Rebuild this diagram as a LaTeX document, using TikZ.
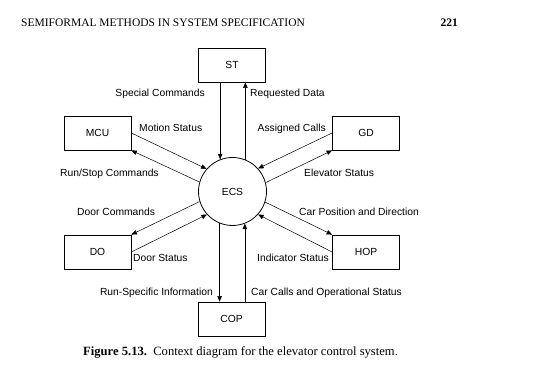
\documentclass[tikz,border=0pt]{standalone}
\usepackage{fontspec}
\setmainfont{Liberation Serif}
\newfontfamily\labelfont{Liberation Sans}
\usetikzlibrary{arrows.meta}
\tikzset{
  ent/.style={draw, line width=0.8pt, minimum width=67pt, minimum height=34pt, inner sep=0pt, font=\labelfont\fontsize{10.3}{12}\selectfont},
  proc/.style={draw, circle, line width=0.8pt, minimum size=68pt, inner sep=0pt, font=\labelfont\fontsize{10.3}{12}\selectfont},
  flow/.style={line width=0.5pt, -{Triangle[length=5.5pt,width=4.5pt]}},
  lbl/.style={inner sep=0pt, font=\labelfont\fontsize{10.3}{12}\selectfont},
}
\begin{document}
\begin{tikzpicture}[x=1pt,y=-1pt]
\useasboundingbox (0,0) rectangle (536,387);
% header
\node[inner sep=0pt, anchor=base west, font=\fontsize{11.5}{13}\selectfont] (hdr) at (21,26.5) {SEMIFORMAL METHODS IN SYSTEM SPECIFICATION};
\node[inner sep=0pt, anchor=base east, font=\bfseries\fontsize{11.5}{13}\selectfont] (pg) at (458,26.5) {221};
% nodes
\node[ent] (ST) at (232,65) {ST};
\node[ent] (MCU) at (97.5,133) {MCU};
\node[ent] (GD) at (366,133) {GD};
\node[ent] (DO) at (97.5,252) {DO};
\node[ent] (HOP) at (366,252) {HOP};
\node[ent] (COP) at (231.5,319) {COP};
\node[proc] (ECS) at (232.5,191.5) {ECS};
% vertical flows
\draw[flow] (ST.south -| ECS.111.6) -- (ECS.111.6);
\draw[flow] (ECS.68.4) -- (ST.south -| ECS.68.4);
\draw[flow] (ECS.248.4) -- (COP.north -| ECS.248.4);
\draw[flow] (COP.north -| ECS.291.6) -- (ECS.291.6);
% diagonal flows
\draw[flow] (MCU.east) -- (ECS.139);
\draw[flow] (ECS.164) -- (MCU.south east);
\draw[flow] (GD.west) -- (ECS.42);
\draw[flow] (ECS.15) -- (GD.south west);
\draw[flow] (ECS.197) -- (DO.north east);
\draw[flow] (DO.east) -- (ECS.222);
\draw[flow] (ECS.342) -- (HOP.north west);
\draw[flow] (HOP.west) -- (ECS.318);
% labels
\node[lbl, anchor=base east] (l1) at (205,96.7) {Special Commands};
\node[lbl, anchor=base west] (l2) at (250,96.7) {Requested Data};
\node[lbl, anchor=base west] (l3) at (139,131.7) {Motion Status};
\node[lbl, anchor=base east] (l4) at (326,131.7) {Assigned Calls};
\node[lbl, anchor=base west] (l5) at (60,176.7) {Run/Stop Commands};
\node[lbl, anchor=base west] (l6) at (304,176.7) {Elevator Status};
\node[lbl, anchor=base west] (l7) at (77,215.7) {Door Commands};
\node[lbl, anchor=base west] (l8) at (299,215.7) {Car Position and Direction};
\node[lbl, anchor=base west] (l9) at (133,261.7) {Door Status};
\node[lbl, anchor=base east] (l10) at (329,261.7) {Indicator Status};
\node[lbl, anchor=base east] (l11) at (213,295.7) {Run-Specific Information};
\node[lbl, anchor=base west] (l12) at (251,295.7) {Car Calls and Operational Status};
% caption
\node[inner sep=0pt, anchor=base west, font=\fontsize{12.6}{14}\selectfont] (cap) at (83,355.5) {\textbf{Figure 5.13.}\ \ Context diagram for the elevator control system.};
\end{tikzpicture}
\end{document}
